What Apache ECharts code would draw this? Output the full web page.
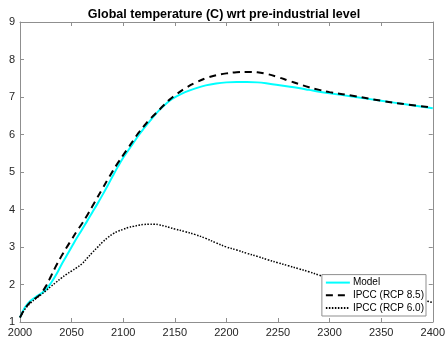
<!DOCTYPE html>
<html>
<head>
<meta charset="utf-8">
<script src="https://cdn.jsdelivr.net/npm/echarts@6/dist/echarts.min.js"></script>
<style>
  html, body { margin: 0; padding: 0; background: #fff; }
  #chart { width: 448px; height: 340px; }
</style>
</head>
<body>
<div id="chart"></div>
<script>
// Sample years shared by all three temperature series
const years = [2000, 2003, 2005, 2010, 2015, 2020, 2025, 2030, 2035, 2040, 2045,
  2050, 2055, 2060, 2065, 2070, 2075, 2080, 2085, 2090, 2095, 2100, 2105, 2110,
  2115, 2120, 2125, 2130, 2135, 2140, 2145, 2150, 2160, 2170, 2180, 2190, 2200,
  2210, 2220, 2230, 2240, 2250, 2260, 2270, 2280, 2290, 2300, 2325, 2350, 2375, 2400];

// Global temperature anomaly (C) relative to pre-industrial level
const model = [1.12, 1.30, 1.40, 1.56, 1.66, 1.75, 1.86, 2.04, 2.26, 2.52, 2.76,
  3.00, 3.24, 3.46, 3.69, 3.92, 4.15, 4.39, 4.64, 4.90, 5.15, 5.38, 5.58, 5.78,
  5.98, 6.16, 6.33, 6.50, 6.65, 6.78, 6.90, 6.99, 7.13, 7.23, 7.31, 7.36, 7.39,
  7.40, 7.40, 7.39, 7.36, 7.32, 7.28, 7.24, 7.19, 7.14, 7.10, 7.00, 6.90, 6.80, 6.70];

const rcp85 = [1.12, 1.28, 1.37, 1.53, 1.63, 1.75, 1.95, 2.22, 2.50, 2.75, 2.98,
  3.20, 3.42, 3.62, 3.84, 4.08, 4.32, 4.56, 4.80, 5.03, 5.25, 5.45, 5.65, 5.85,
  6.05, 6.22, 6.38, 6.52, 6.66, 6.80, 6.93, 7.04, 7.23, 7.38, 7.50, 7.58, 7.63,
  7.66, 7.67, 7.66, 7.61, 7.53, 7.44, 7.35, 7.26, 7.19, 7.13, 7.02, 6.90, 6.80, 6.72];

const rcp60 = [1.12, 1.27, 1.35, 1.50, 1.62, 1.72, 1.83, 1.95, 2.06, 2.17, 2.27,
  2.36, 2.45, 2.55, 2.70, 2.85, 2.99, 3.13, 3.25, 3.35, 3.42, 3.47, 3.52, 3.55,
  3.58, 3.60, 3.61, 3.61, 3.59, 3.56, 3.52, 3.48, 3.41, 3.33, 3.23, 3.11, 3.00,
  2.92, 2.83, 2.75, 2.66, 2.58, 2.50, 2.42, 2.34, 2.25, 2.17, 2.00, 1.84, 1.68, 1.52];

const seriesNames = ['Model', 'IPCC (RCP 8.5)', 'IPCC (RCP 6.0)'];

const pairs = vals => years.map((y, i) => [y, vals[i]]);

const FONT = 'Liberation Sans, Arial, Helvetica, sans-serif';
const AXIS_GRAY = '#8f8f8f';
const LABEL_COLOR = '#262626';

function xAxisCfg(position, showLabel) {
  return {
    type: 'value', min: 2000, max: 2400, interval: 50, position: position,
    axisLine: { show: true, onZero: false, lineStyle: { color: AXIS_GRAY, width: 1 } },
    axisTick: { show: true, inside: true, length: 4, lineStyle: { color: AXIS_GRAY } },
    axisLabel: {
      show: showLabel, color: LABEL_COLOR, fontSize: 11, fontFamily: FONT, margin: 5,
      formatter: v => String(v)
    },
    splitLine: { show: false }
  };
}
function yAxisCfg(position, showLabel) {
  return {
    type: 'value', min: 1, max: 9, interval: 1, position: position,
    axisLine: { show: true, onZero: false, lineStyle: { color: AXIS_GRAY, width: 1 } },
    axisTick: { show: true, inside: true, length: 4, lineStyle: { color: AXIS_GRAY } },
    axisLabel: { show: showLabel, color: LABEL_COLOR, fontSize: 11, fontFamily: FONT, margin: 5 },
    splitLine: { show: false }
  };
}

const chart = echarts.init(document.getElementById('chart'), null, { renderer: 'canvas' });
chart.setOption({
  backgroundColor: '#ffffff',
  animation: false,
  title: {
    text: 'Global temperature (C) wrt pre-industrial level',
    left: 'center', top: 3,
    textStyle: { fontSize: 12.5, fontWeight: 'bold', color: '#000', fontFamily: FONT }
  },
  grid: { left: 20, right: 15, top: 22, bottom: 18, containLabel: false },
  xAxis: [xAxisCfg('bottom', true), xAxisCfg('top', false)],
  yAxis: [yAxisCfg('left', true), yAxisCfg('right', false)],
  legend: {
    orient: 'vertical', right: 22, bottom: 24,
    backgroundColor: '#ffffff', borderColor: AXIS_GRAY, borderWidth: 1, borderRadius: 0,
    padding: [3, 2, 3, 3], itemGap: 2.7, itemWidth: 24, itemHeight: 10,
    itemStyle: { color: 'transparent', opacity: 0, borderWidth: 0 },
    textStyle: { fontSize: 10, color: '#000', fontFamily: FONT, padding: [0, 0, 0, -2] },
    data: seriesNames
  },
  series: [
    {
      name: seriesNames[0], type: 'line', data: pairs(model), smooth: 0.4,
      symbol: 'none', lineStyle: { color: '#00ffff', width: 2 }, itemStyle: { color: '#00ffff' }
    },
    {
      name: seriesNames[1], type: 'line', data: pairs(rcp85), smooth: 0.4,
      symbol: 'none', lineStyle: { color: '#000', width: 2, type: [7, 5] }, itemStyle: { color: '#000' }
    },
    {
      name: seriesNames[2], type: 'line', data: pairs(rcp60), smooth: 0.4,
      symbol: 'none', lineStyle: { color: '#000', width: 1.5, type: [1.5, 1.5] }, itemStyle: { color: '#000' }
    }
  ]
});
</script>
</body>
</html>
